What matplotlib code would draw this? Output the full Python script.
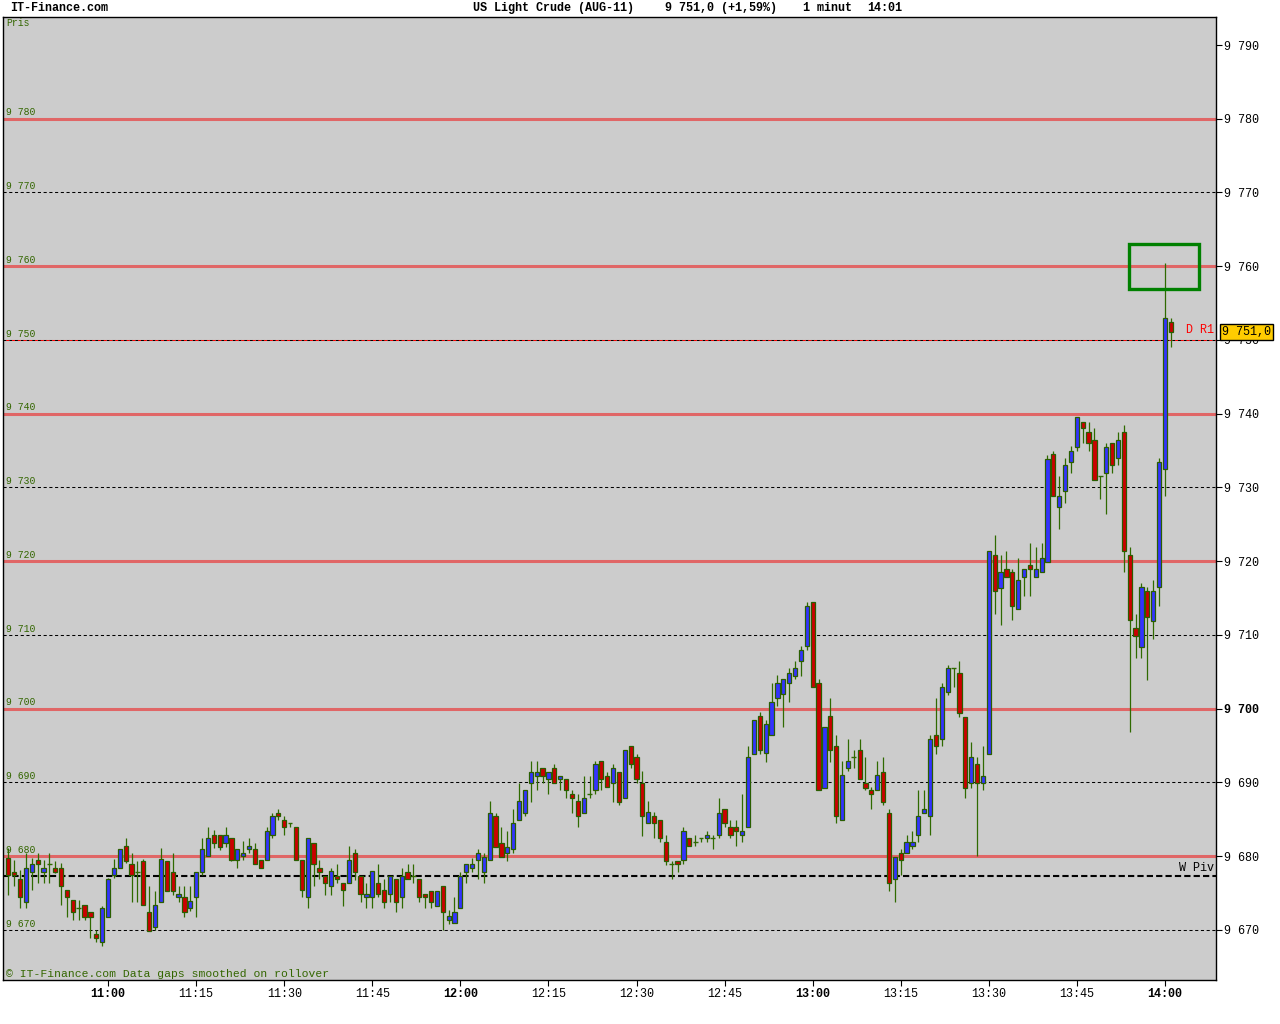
import matplotlib
matplotlib.use("Agg")
import matplotlib.pyplot as plt
from matplotlib.patches import Rectangle
import numpy as np

# 1 minute candles, first one at 10:43
start_time = "10:43"

opens = [
    9679.7, 9677.9, 9676.9, 9673.8, 9677.9, 9679.5, 9677.9, 9678.9, 9678.4, 9678.4,
    9675.4, 9674.0, 9672.9, 9673.4, 9672.4, 9669.4, 9668.3, 9671.8, 9677.5, 9678.4,
    9681.4, 9678.9, 9677.9, 9679.4, 9672.4, 9670.4, 9673.8, 9679.4, 9677.9, 9674.4,
    9674.4, 9672.9, 9674.4, 9677.9, 9680.0, 9682.9, 9682.9, 9681.8, 9682.4, 9679.5,
    9680.0, 9680.9, 9680.9, 9679.5, 9679.5, 9682.9, 9685.9, 9684.9, 9684.5, 9683.9,
    9679.5, 9674.4, 9681.8, 9678.4, 9677.3, 9675.9, 9677.3, 9676.3, 9676.3, 9680.4,
    9677.3, 9674.4, 9674.4, 9676.3, 9675.4, 9674.8, 9676.9, 9674.4, 9677.9, 9677.3,
    9676.9, 9674.9, 9675.3, 9673.3, 9675.9, 9671.4, 9670.9, 9672.9, 9677.9, 9678.4,
    9679.5, 9677.9, 9679.5, 9685.4, 9681.8, 9680.4, 9680.9, 9684.9, 9685.9, 9689.9,
    9690.9, 9691.9, 9690.4, 9691.9, 9690.4, 9690.4, 9688.4, 9687.5, 9685.9, 9688.4,
    9688.9, 9692.9, 9690.9, 9689.9, 9691.4, 9687.9, 9694.9, 9693.4, 9689.9, 9684.5,
    9685.5, 9684.9, 9681.9, 9678.9, 9679.4, 9679.5, 9682.4, 9681.9, 9682.4, 9682.4,
    9682.4, 9682.9, 9686.4, 9683.9, 9683.9, 9682.9, 9683.9, 9693.9, 9699.0, 9694.0,
    9696.4, 9701.4, 9702.0, 9703.5, 9704.4, 9706.5, 9708.5, 9714.4, 9703.5, 9689.3,
    9699.0, 9694.9, 9684.9, 9691.9, 9693.4, 9694.4, 9689.9, 9688.9, 9688.9, 9691.4,
    9685.9, 9676.9, 9680.4, 9680.4, 9681.4, 9682.9, 9685.9, 9685.4, 9696.4, 9695.9,
    9702.3, 9705.5, 9704.9, 9698.9, 9689.9, 9692.5, 9689.9, 9693.9, 9720.9, 9716.4,
    9718.9, 9718.5, 9713.5, 9717.9, 9719.5, 9717.9, 9718.5, 9719.9, 9734.5, 9727.4,
    9729.5, 9733.4, 9735.5, 9738.9, 9737.5, 9736.5, 9731.5, 9731.9, 9736.0, 9734.0,
    9737.5, 9720.9, 9710.9, 9708.4, 9716.0, 9711.9, 9716.5, 9732.5, 9752.5,
]
highs = [
    9681.1, 9679.5, 9678.1, 9680.4, 9679.7, 9680.4, 9679.5, 9680.4, 9679.3, 9679.0,
    9675.4, 9674.0, 9674.1, 9673.4, 9672.4, 9670.0, 9673.3, 9677.1, 9679.6, 9681.0,
    9682.4, 9680.4, 9679.3, 9679.6, 9675.9, 9675.3, 9681.1, 9679.4, 9680.4, 9675.9,
    9675.9, 9675.9, 9677.9, 9682.4, 9684.0, 9683.6, 9682.9, 9684.0, 9682.4, 9680.9,
    9682.0, 9682.4, 9681.8, 9679.5, 9684.0, 9685.9, 9686.4, 9685.5, 9684.5, 9683.9,
    9679.5, 9682.4, 9681.8, 9679.5, 9677.3, 9678.4, 9678.9, 9676.3, 9681.4, 9680.9,
    9677.3, 9676.3, 9678.0, 9678.9, 9676.9, 9677.3, 9676.9, 9678.4, 9678.9, 9678.9,
    9676.9, 9674.9, 9675.3, 9675.3, 9675.9, 9672.7, 9674.5, 9677.9, 9678.9, 9679.7,
    9680.9, 9680.4, 9687.5, 9685.9, 9683.9, 9683.4, 9686.4, 9689.9, 9688.9, 9692.9,
    9692.9, 9691.9, 9691.4, 9692.5, 9690.9, 9690.4, 9688.9, 9688.4, 9690.9, 9690.9,
    9692.9, 9692.9, 9691.4, 9692.5, 9691.4, 9694.4, 9694.9, 9693.9, 9691.5, 9687.5,
    9686.0, 9684.9, 9682.9, 9679.4, 9679.4, 9683.9, 9682.4, 9682.9, 9682.4, 9683.4,
    9682.9, 9687.9, 9686.4, 9684.9, 9684.9, 9688.4, 9694.9, 9698.5, 9699.5, 9698.5,
    9703.5, 9704.5, 9704.0, 9705.5, 9706.5, 9708.5, 9714.4, 9714.4, 9704.0, 9697.5,
    9701.4, 9696.4, 9692.9, 9695.9, 9694.4, 9695.9, 9693.4, 9689.4, 9692.9, 9693.4,
    9686.4, 9679.9, 9680.9, 9682.9, 9683.4, 9688.9, 9688.9, 9696.4, 9701.5, 9703.5,
    9705.9, 9705.5, 9706.5, 9698.9, 9695.5, 9693.4, 9694.9, 9721.4, 9723.6, 9720.9,
    9721.4, 9718.9, 9720.4, 9718.9, 9722.4, 9721.9, 9722.4, 9734.4, 9735.0, 9731.6,
    9734.0, 9735.6, 9739.5, 9738.9, 9738.9, 9738.0, 9731.5, 9736.0, 9736.0, 9737.5,
    9738.5, 9721.9, 9712.9, 9717.0, 9716.5, 9717.5, 9734.0, 9760.5, 9753.0,
]
lows = [
    9674.7, 9675.9, 9672.9, 9672.9, 9675.4, 9676.3, 9676.3, 9676.3, 9677.7, 9673.4,
    9671.8, 9671.4, 9671.4, 9671.4, 9668.9, 9668.4, 9667.8, 9671.8, 9677.1, 9678.4,
    9679.0, 9673.8, 9673.8, 9673.4, 9669.9, 9670.0, 9673.8, 9675.3, 9674.7, 9673.8,
    9671.8, 9672.5, 9671.8, 9677.5, 9680.0, 9681.1, 9680.8, 9681.3, 9679.3, 9678.4,
    9679.5, 9680.4, 9678.9, 9678.4, 9679.5, 9682.4, 9684.9, 9682.9, 9684.0, 9679.5,
    9674.4, 9672.9, 9675.9, 9676.9, 9674.7, 9674.7, 9676.3, 9673.3, 9676.3, 9676.8,
    9673.8, 9672.9, 9672.9, 9674.4, 9672.9, 9673.8, 9672.4, 9672.9, 9676.9, 9676.3,
    9673.8, 9672.9, 9672.9, 9673.3, 9670.0, 9670.8, 9670.9, 9672.9, 9676.3, 9677.9,
    9676.9, 9676.3, 9679.5, 9681.3, 9679.9, 9679.4, 9680.4, 9684.9, 9685.4, 9687.4,
    9688.9, 9689.9, 9688.4, 9689.9, 9688.9, 9687.9, 9685.9, 9683.9, 9685.9, 9687.9,
    9688.4, 9688.9, 9689.4, 9687.4, 9686.9, 9687.9, 9691.9, 9689.9, 9682.7, 9684.5,
    9682.4, 9681.9, 9678.8, 9676.9, 9677.9, 9678.9, 9681.4, 9681.4, 9681.9, 9681.9,
    9680.9, 9682.4, 9683.9, 9682.4, 9681.4, 9681.9, 9683.9, 9693.9, 9693.9, 9692.8,
    9696.4, 9700.4, 9697.5, 9700.9, 9704.0, 9704.4, 9708.0, 9702.9, 9689.0, 9689.3,
    9692.8, 9684.5, 9684.9, 9691.5, 9691.9, 9690.4, 9688.9, 9686.4, 9688.9, 9686.9,
    9675.3, 9673.8, 9677.4, 9680.4, 9680.9, 9681.9, 9685.9, 9682.9, 9693.9, 9694.9,
    9701.9, 9702.9, 9698.9, 9687.9, 9689.3, 9680.0, 9688.9, 9693.9, 9712.9, 9711.4,
    9717.9, 9712.0, 9713.5, 9715.3, 9715.3, 9717.9, 9718.5, 9719.9, 9728.9, 9724.4,
    9727.9, 9731.9, 9735.0, 9736.0, 9735.0, 9731.0, 9728.5, 9726.4, 9731.9, 9733.0,
    9718.5, 9696.9, 9706.9, 9706.9, 9703.9, 9709.4, 9713.9, 9728.9, 9749.0,
]
closes = [
    9677.5, 9677.5, 9674.4, 9678.4, 9678.9, 9678.9, 9678.4, 9678.9, 9677.9, 9675.9,
    9674.4, 9672.4, 9672.9, 9671.8, 9671.8, 9668.9, 9672.9, 9676.9, 9678.4, 9680.9,
    9679.4, 9677.5, 9677.9, 9673.4, 9669.9, 9673.4, 9679.6, 9675.3, 9675.3, 9674.9,
    9672.4, 9673.9, 9677.9, 9680.9, 9682.4, 9681.8, 9681.3, 9682.9, 9679.5, 9680.9,
    9680.4, 9681.4, 9678.9, 9678.4, 9683.4, 9685.5, 9685.4, 9683.9, 9684.5, 9679.5,
    9675.4, 9682.4, 9678.9, 9677.9, 9676.3, 9678.0, 9676.9, 9675.4, 9679.5, 9677.9,
    9674.8, 9674.8, 9678.0, 9674.8, 9673.8, 9677.3, 9673.8, 9677.3, 9676.9, 9677.3,
    9674.4, 9674.4, 9673.8, 9675.3, 9672.4, 9671.9, 9672.4, 9677.3, 9678.9, 9678.9,
    9680.4, 9679.9, 9685.9, 9681.3, 9679.9, 9681.3, 9684.5, 9687.5, 9688.9, 9691.4,
    9691.4, 9690.9, 9691.4, 9689.9, 9690.9, 9688.9, 9687.9, 9685.5, 9687.9, 9688.4,
    9692.5, 9690.4, 9689.4, 9691.9, 9687.4, 9694.4, 9692.5, 9690.4, 9685.5, 9686.0,
    9684.5, 9682.4, 9679.4, 9678.9, 9678.9, 9683.4, 9681.4, 9681.9, 9682.4, 9682.9,
    9682.4, 9685.9, 9684.5, 9682.9, 9683.4, 9683.4, 9693.4, 9698.5, 9694.4, 9697.9,
    9700.9, 9703.5, 9704.0, 9704.9, 9705.5, 9708.0, 9713.9, 9702.9, 9689.0, 9697.5,
    9694.4, 9685.5, 9691.0, 9692.9, 9693.4, 9690.4, 9689.3, 9688.4, 9691.0, 9687.4,
    9676.3, 9679.9, 9679.5, 9681.9, 9681.9, 9685.4, 9686.4, 9695.9, 9694.9, 9702.9,
    9705.5, 9705.5, 9699.4, 9689.3, 9693.4, 9689.9, 9690.9, 9721.4, 9715.9, 9718.5,
    9717.9, 9713.9, 9717.5, 9718.9, 9718.9, 9718.9, 9720.4, 9733.9, 9728.9, 9728.9,
    9733.0, 9735.0, 9739.5, 9738.0, 9736.0, 9731.0, 9731.5, 9735.5, 9733.0, 9736.5,
    9721.4, 9712.0, 9709.9, 9716.5, 9712.4, 9716.0, 9733.4, 9753.0, 9751.1,
]

red_levels = [9680, 9700, 9720, 9740, 9760, 9780]
dash_levels = [9670, 9690, 9710, 9730, 9750, 9770]
price_ticks = [9670, 9680, 9690, 9700, 9710, 9720, 9730, 9740, 9750, 9760, 9770, 9780, 9790]
w_piv = 9677.3
d_r1 = 9750
last_price = "9 751,0"
time_labels = ["11:00", "11:15", "11:30", "11:45", "12:00", "12:15", "12:30",
               "12:45", "13:00", "13:15", "13:30", "13:45", "14:00"]
# green box drawn round the spike (from/to minute index, price range)
box_x = (190.9, 202.8)
box_y = (9756.9, 9763.0)

FONT = ["Liberation Mono", "DejaVu Sans Mono"]
GREEN_TXT = "#336600"
EDGE = "#2a5e00"

def to_min(t):
    h, m = t.split(":")
    return int(h) * 60 + int(m)

def fmt_price(v):
    return "9 %03d" % (int(v) - 9000)

o = np.array(opens)
h = np.array(highs)
l = np.array(lows)
c = np.array(closes)
x = np.arange(len(o))

fig = plt.figure(figsize=(12.8, 10.24), dpi=100)
fig.patch.set_facecolor("white")
ax = fig.add_axes([3 / 1280, 44 / 1024, 1213 / 1280, 963 / 1024])
ax.set_facecolor("#cccccc")
ax.set_xlim(-0.9, 205.7)
ax.set_ylim(9663.2, 9793.8)

# levels
for lv in dash_levels:
    ax.axhline(lv, color="black", lw=0.75, ls=(0, (3, 2.5)), zorder=1)
ax.axhline(d_r1, color="red", lw=0.75, ls=(2.75, (2.75, 2.75)), zorder=1.1)
for lv in red_levels:
    ax.axhline(lv, color="#e06666", lw=2.2, zorder=1.2)
ax.axhline(w_piv, color="black", lw=1.5, ls=(0, (3, 1.5)), zorder=1.3)

# candles
up = c > o
down = c < o
flat = c == o
ax.vlines(x, l, h, color="#2f6a00", lw=0.9, zorder=2)
ax.bar(x[up], (c - o)[up], bottom=o[up], width=0.72, color="#3333ff",
       edgecolor=EDGE, linewidth=0.9, zorder=3)
ax.bar(x[down], (o - c)[down], bottom=c[down], width=0.72, color="#cc0000",
       edgecolor=EDGE, linewidth=0.9, zorder=3)
ax.hlines(o[flat], x[flat] - 0.4, x[flat] + 0.4, color="#2f6a00", lw=1.0, zorder=3)

ax.add_patch(Rectangle((box_x[0], box_y[0]), box_x[1] - box_x[0], box_y[1] - box_y[0],
                       fill=False, edgecolor="#008000", lw=2.4, zorder=4))

# axes look
for s in ax.spines.values():
    s.set_color("black")
    s.set_linewidth(1.0)
ax.yaxis.tick_right()
ax.set_yticks(price_ticks)
ax.set_yticklabels([fmt_price(v) for v in price_ticks], fontfamily=FONT, fontsize=8.5)
ax.tick_params(axis="y", length=4, width=0.8, pad=2, colors="black")
t0 = to_min(start_time)
ax.set_xticks([to_min(t) - t0 for t in time_labels])
ax.set_xticklabels(time_labels, fontfamily=FONT, fontsize=8.5)
ax.tick_params(axis="x", length=4, width=0.8, pad=1.5, colors="black")
for lab in ax.get_xticklabels():
    if lab.get_text().endswith(":00"):
        lab.set_fontweight("bold")
for lab in ax.get_yticklabels():
    if lab.get_text() == "9 700":
        lab.set_fontweight("bold")

# left labels
for lv in price_ticks[:-1]:
    ax.text(-0.4, lv + 0.85, fmt_price(lv), fontfamily=FONT, fontsize=7,
            color=GREEN_TXT, va="center", ha="left", zorder=5)
ax.text(-0.4, 9793.0, "Pris", fontfamily=FONT, fontsize=7, color=GREEN_TXT,
        va="center", ha="left", zorder=5)
ax.text(-0.4, 9664.0, "© IT-Finance.com Data gaps smoothed on rollover",
        fontfamily=FONT, fontsize=8.2, color=GREEN_TXT, va="center", ha="left", zorder=5)
ax.text(205.4, 9751.3, "D R1", fontfamily=FONT, fontsize=8.5, color="red",
        va="center", ha="right", zorder=5)
ax.text(205.4, 9678.4, "W Piv", fontfamily=FONT, fontsize=8.5, color="black",
        va="center", ha="right", zorder=5)

# header
hy = 1 - 8 / 1024
fig.text(10 / 1280, hy, "IT-Finance.com", fontfamily=FONT, fontsize=8.5,
         fontweight="bold", va="center")
fig.text(473 / 1280, hy, "US Light Crude (AUG-11)", fontfamily=FONT, fontsize=8.5,
         fontweight="bold", va="center")
fig.text(665 / 1280, hy, "9 751,0 (+1,59%)", fontfamily=FONT, fontsize=8.5,
         fontweight="bold", va="center")
fig.text(803 / 1280, hy, "1 minut", fontfamily=FONT, fontsize=8.5,
         fontweight="bold", va="center")
fig.text(867 / 1280, hy, "14:01", fontfamily=FONT, fontsize=8.5,
         fontweight="bold", va="center")

# last price box
fig.text(1222 / 1280, 1 - 332 / 1024, last_price, fontfamily=FONT, fontsize=8.5,
         va="center", ha="left", zorder=10,
         bbox=dict(boxstyle="square,pad=0.15", facecolor="#ffcc00", edgecolor="black", lw=1))

fig.savefig("out.png", dpi=100)
